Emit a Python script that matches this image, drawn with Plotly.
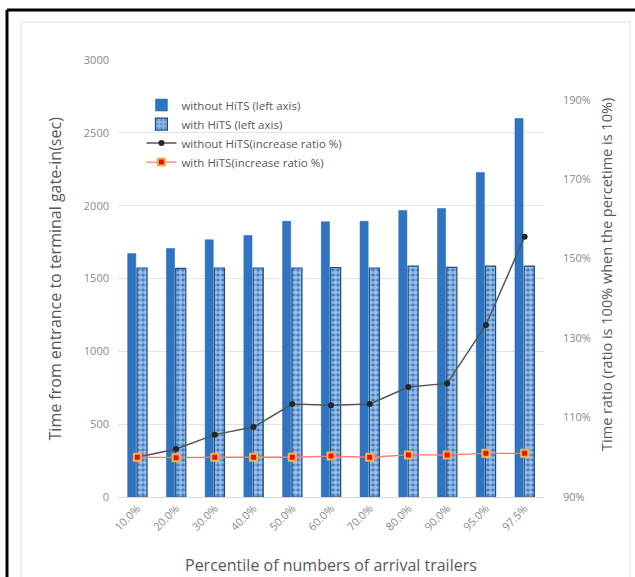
import plotly.graph_objects as go

categories = ["10.0%", "20.0%", "30.0%", "40.0%", "50.0%", "60.0%", "70.0%", "80.0%", "90.0%", "95.0%", "97.5%"]
without_hits = [1671, 1706, 1766, 1796, 1893, 1890, 1893, 1966, 1981, 2227, 2598]
with_hits = [1572, 1570, 1572, 1572, 1572, 1575, 1572, 1585, 1576, 1585, 1585]
without_ratio = [1.000, 1.021, 1.057, 1.076, 1.134, 1.131, 1.134, 1.177, 1.186, 1.333, 1.555]
with_ratio = [1.000, 0.999, 1.000, 1.000, 1.000, 1.003, 1.000, 1.006, 1.006, 1.010, 1.010]

FONT = "Open Sans"
GRAY = "#595959"
TICK = "#8a8a8a"

fig = go.Figure()
fig.add_trace(go.Bar(
    x=categories, y=without_hits, name="without HiTS (left axis)",
    marker=dict(color="#2E74C2", line=dict(color="#2563AE", width=0.5)),
    width=0.21, offset=-0.25,
))
fig.add_trace(go.Bar(
    x=categories, y=with_hits, name="with HiTS (left axis)",
    marker=dict(color="#3A7CC8", line=dict(color="#1F4E79", width=1.2),
                pattern=dict(shape=".", fgcolor="white", bgcolor="#3A7CC8", size=5, solidity=0.7)),
    width=0.26, offset=-0.01,
))
fig.add_trace(go.Scatter(
    x=categories, y=without_ratio, name="without HiTS(increase ratio %)", yaxis="y2",
    mode="lines+markers", line=dict(color="#555555", width=1.5),
    marker=dict(symbol="circle", size=6, color="#262626"),
))
fig.add_trace(go.Scatter(
    x=categories, y=with_ratio, name="with HiTS(increase ratio %)", yaxis="y2",
    mode="lines+markers", line=dict(color="#FF7575", width=1.3),
    marker=dict(symbol="square", size=7, color="#E8140C", line=dict(color="#FFB04A", width=2)),
))

fig.update_layout(
    width=635, height=577,
    margin=dict(l=118, r=91, t=60, b=80),
    paper_bgcolor="white", plot_bgcolor="white",
    barmode="overlay",
    font=dict(family=FONT, color=GRAY),
    showlegend=True,
    legend=dict(x=0.055, y=0.93, xanchor="left", yanchor="top",
                bgcolor="rgba(0,0,0,0)", font=dict(size=11.5, color=GRAY),
                tracegroupgap=0, itemwidth=30),
    xaxis=dict(type="category", tickangle=-45, tickfont=dict(size=11, color=TICK),
               showline=True, linecolor="#D9D9D9", linewidth=1, ticks="",
               showgrid=False, automargin=False, range=[-0.5, 10.5]),
    yaxis=dict(range=[0, 3000], dtick=500, tickfont=dict(size=11, color=TICK),
               gridcolor="#E3E3E3", gridwidth=1, zeroline=False, showline=False,
               ticks="", automargin=False, ticklabelstandoff=8),
    yaxis2=dict(overlaying="y", side="right", range=[0.9, 2.0],
                tickvals=[0.9, 1.1, 1.3, 1.5, 1.7, 1.9], tickformat=".0%",
                tickfont=dict(size=11, color=TICK), showgrid=False, zeroline=False,
                showline=False, ticks="", automargin=False, ticklabelstandoff=18),
    annotations=[
        dict(text="Time from entrance to terminal gate-in(sec)", xref="paper", yref="paper",
             x=-0.148, y=0.5, textangle=-90, showarrow=False,
             font=dict(size=16, color=GRAY, family=FONT), xanchor="center", yanchor="middle"),
        dict(text="Time ratio (ratio is 100% when the percetime is 10%)", xref="paper", yref="paper",
             x=1.145, y=0.51, textangle=-90, showarrow=False,
             font=dict(size=14.5, color=GRAY, family=FONT), xanchor="center", yanchor="middle"),
        dict(text="Percentile of numbers of arrival trailers", xref="paper", yref="paper",
             x=0.5, y=-0.155, showarrow=False,
             font=dict(size=16, color=GRAY, family=FONT), xanchor="center", yanchor="middle"),
    ],
    shapes=[
        dict(type="rect", xref="paper", yref="paper",
             x0=-(118 - 21) / 426, x1=(630 - 118) / 426,
             y0=-(80) / 437 - 0.01, y1=(497 - 22) / 437,
             line=dict(color="#EBEBEB", width=1.5), layer="below"),
        dict(type="line", xref="paper", yref="paper",
             x0=-(118 - 7) / 426, x1=(636 - 118) / 426,
             y0=(497 - 10) / 437, y1=(497 - 10) / 437,
             line=dict(color="black", width=3)),
        dict(type="line", xref="paper", yref="paper",
             x0=-(118 - 7) / 426, x1=-(118 - 7) / 426,
             y0=(497 - 10) / 437, y1=-0.2,
             line=dict(color="black", width=3)),
    ],
)

fig.write_html("out.html")
